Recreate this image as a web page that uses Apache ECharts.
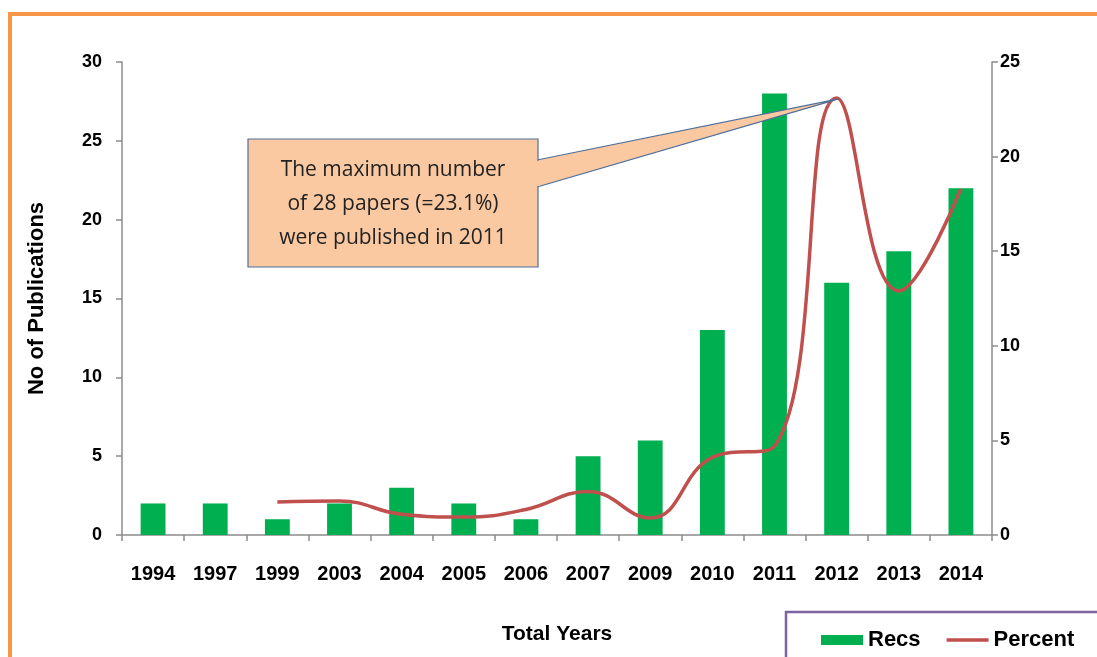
<!DOCTYPE html>
<html>
<head>
<meta charset="utf-8">
<script src="https://cdn.jsdelivr.net/npm/echarts@6/dist/echarts.min.js"></script>
<style>
  html, body { margin: 0; padding: 0; background: #fff; }
  #chart { width: 1097px; height: 657px; }
</style>
</head>
<body>
<div id="chart"></div>
<script>
// 数据
const years = ['1994', '1997', '1999', '2003', '2004', '2005', '2006', '2007', '2009', '2010', '2011', '2012', '2013', '2014'];
const recs = [2, 2, 1, 2, 3, 2, 1, 5, 6, 13, 28, 16, 18, 22];
const percent = ['-', '-', 1.75, 1.8, 1.1, 0.95, 1.35, 2.3, 0.9, 4.1, 4.7, 23.1, 12.9, 18.3];
const leftTicks = [0, 5, 10, 15, 20, 25, 30];
const rightTicks = [0, 5, 10, 15, 20, 25];
const noteLines = ['The maximum number', 'of 28 papers (=23.1%)', 'were published in 2011'];

const chart = echarts.init(document.getElementById('chart'));

const boldFont = 'Liberation Sans, Arial, sans-serif';
const axisGray = '#8c8c8c';

// 标注框位置
const box = { x: 248, y: 139, w: 290, h: 128 };

function buildGraphic(tip) {
    return [
        // 外框（橙色）
        {
            type: 'rect', silent: true, z: 0,
            shape: { x: 10, y: 14, width: 1200, height: 800 },
            style: { fill: 'none', stroke: '#F79646', lineWidth: 4 }
        },
        // 图例框
        {
            type: 'rect', silent: true, z: 0,
            shape: { x: 786, y: 612, width: 400, height: 100 },
            style: { fill: '#fff', stroke: '#8064A2', lineWidth: 2.5 }
        },
        // 标注：指针
        {
            type: 'polygon', silent: true, z: 100,
            shape: { points: [[box.x + box.w - 1, box.y + 21], [tip[0], tip[1]], [box.x + box.w - 1, box.y + 48]] },
            style: { fill: '#FAC9A2', stroke: '#4F6F9C', lineWidth: 1.2 }
        },
        {
            type: 'rect', silent: true, z: 101,
            shape: { x: box.x, y: box.y, width: box.w, height: box.h },
            style: { fill: '#FAC9A2', stroke: '#4F6F9C', lineWidth: 1.2 }
        },
        {
            type: 'polygon', silent: true, z: 102,
            shape: { points: [[box.x + box.w - 2, box.y + 22], [box.x + box.w + 2, box.y + 22], [box.x + box.w + 2, box.y + 47], [box.x + box.w - 2, box.y + 47]] },
            style: { fill: '#FAC9A2' }
        },
        {
            type: 'text', silent: true, z: 103,
            x: box.x + box.w / 2, y: box.y + box.h / 2 + 1,
            style: {
                text: noteLines.join('\n'),
                fill: '#222',
                font: '21px "Open Sans", "Noto Sans", sans-serif',
                lineHeight: 34,
                align: 'center',
                verticalAlign: 'middle'
            }
        }
    ];
}

const option = {
    animation: false,
    backgroundColor: '#fff',
    grid: { left: 122, right: 105, top: 62, bottom: 122, containLabel: false },
    legend: {
        left: 816, top: 624,
        itemWidth: 42, itemHeight: 10, itemGap: 26,
        textStyle: { fontFamily: boldFont, fontWeight: 'bold', fontSize: 22, color: '#000' },
        data: [
            { name: 'Recs', icon: 'rect' },
            { name: 'Percent', icon: 'path://M0,0 L42,0 L42,3.5 L0,3.5 Z' }
        ]
    },
    xAxis: {
        type: 'category',
        data: years,
        name: 'Total Years',
        nameLocation: 'middle',
        nameGap: 89,
        nameTextStyle: { fontFamily: boldFont, fontWeight: 'bold', fontSize: 21, color: '#000' },
        axisLine: { lineStyle: { color: axisGray, width: 1.5 } },
        axisTick: { show: true, length: 6, lineStyle: { color: axisGray, width: 1.5 } },
        axisLabel: { fontFamily: boldFont, fontWeight: 'bold', fontSize: 20, color: '#000', margin: 29, interval: 0 }
    },
    yAxis: [
        {
            type: 'value',
            min: 0, max: 30, interval: 5,
            name: 'No of Publications',
            nameLocation: 'middle',
            nameGap: 74,
            nameRotate: 90,
            nameTextStyle: { fontFamily: boldFont, fontWeight: 'bold', fontSize: 22, color: '#000' },
            axisLine: { show: true, lineStyle: { color: axisGray, width: 1.5 } },
            axisTick: { show: true, length: 6, lineStyle: { color: axisGray, width: 1.5 } },
            axisLabel: {
                fontFamily: boldFont, fontWeight: 'bold', fontSize: 18, color: '#000', margin: 20,
                formatter: v => leftTicks.includes(v) ? String(v) : ''
            },
            splitLine: { show: false }
        },
        {
            type: 'value',
            min: 0, max: 25, interval: 5,
            position: 'right',
            axisLine: { show: true, lineStyle: { color: axisGray, width: 1.5 } },
            axisTick: { show: true, length: 6, lineStyle: { color: axisGray, width: 1.5 } },
            axisLabel: {
                fontFamily: boldFont, fontWeight: 'bold', fontSize: 18, color: '#000', margin: 8,
                formatter: v => rightTicks.includes(v) ? String(v) : ''
            },
            splitLine: { show: false }
        }
    ],
    series: [
        {
            name: 'Recs',
            type: 'bar',
            yAxisIndex: 0,
            barWidth: '40%',
            data: recs,
            itemStyle: { color: '#00B050' }
        },
        {
            name: 'Percent',
            type: 'line',
            yAxisIndex: 1,
            data: percent,
            smooth: 0.45,
            symbol: 'none',
            lineStyle: { color: '#C0504D', width: 3.5 },
            itemStyle: { color: '#C0504D' },
            z: 5
        }
    ],
    graphic: buildGraphic([853, 97])
};

chart.setOption(option);

// 指针尖端对准 2012 的峰值
const tip = chart.convertToPixel({ xAxisIndex: 0, yAxisIndex: 1 }, ['2012', 23.1]);
chart.setOption({ graphic: buildGraphic([tip[0] + 2, tip[1] + 1]) }, { replaceMerge: ['graphic'] });
</script>
</body>
</html>
